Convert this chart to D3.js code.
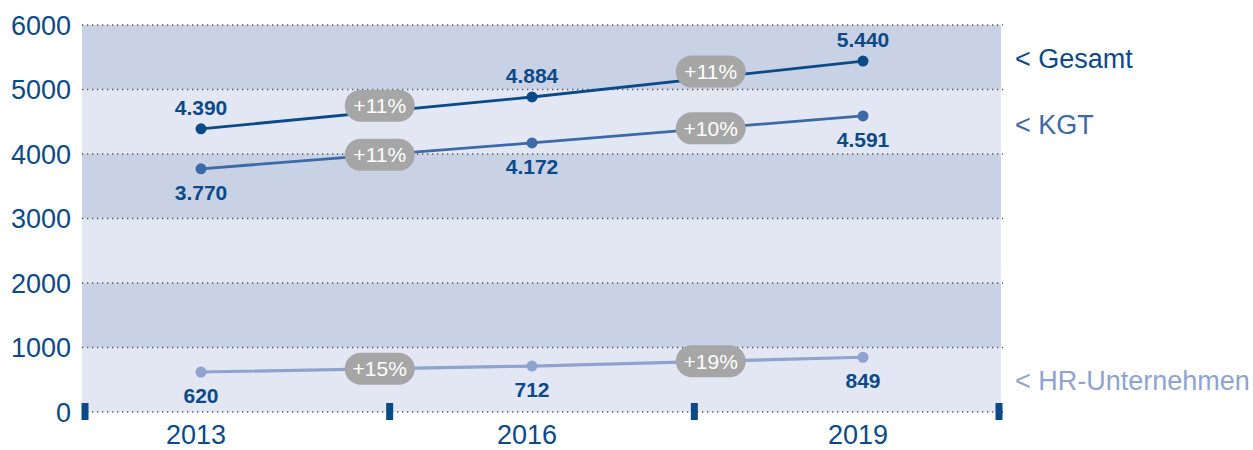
<!DOCTYPE html>
<html>
<head>
<meta charset="utf-8">
<script src="https://cdn.jsdelivr.net/npm/d3@7"></script>
<style>
  body { margin: 0; background: #fff; }
  svg { font-family: "Liberation Sans", Arial, sans-serif; display: block; }
</style>
</head>
<body>
<svg id="chart"></svg>
<script>
    'use strict';

    // data
    var years = ['2013', '2016', '2019'];
    var gesamt = [4390, 4884, 5440];
    var kgt = [3770, 4172, 4591];
    var hr = [620, 712, 849];
    var gesamtGrowth = ['+11%', '+11%'];
    var kgtGrowth = ['+11%', '+10%'];
    var hrGrowth = ['+15%', '+19%'];
    var yTicks = [0, 1000, 2000, 3000, 4000, 5000, 6000];
    var seriesNames = ['< Gesamt', '< KGT', '< HR-Unternehmen'];

(function() {
    var width = 1253;
    var height = 450;
    var plotLeft = 82, plotRight = 1001, plotTop = 25, plotBottom = 412;
    var darkBlue = '#0b4a89';

    var svg = d3.select('#chart')
        .attr('width', width)
        .attr('height', height);

    var y = d3.scaleLinear().domain([0, 6000]).range([plotBottom, plotTop]);
    var x = d3.scalePoint().domain(years).range([201, 863]);
    var band = d3.scaleBand().domain(years).range([85, 999]);

    // alternating background bands
    svg.append('g').selectAll('rect')
        .data(d3.pairs(yTicks))
        .enter().append('rect')
        .attr('x', plotLeft)
        .attr('width', plotRight - plotLeft)
        .attr('y', function(d) { return y(d[1]); })
        .attr('height', function(d) { return y(d[0]) - y(d[1]); })
        .attr('fill', function(d, i) { return i % 2 === 0 ? '#e3e7f3' : '#c9d1e5'; });

    // dotted grid lines
    svg.append('g').selectAll('line')
        .data(yTicks)
        .enter().append('line')
        .attr('x1', plotLeft)
        .attr('x2', plotRight + 2)
        .attr('y1', function(d) { return y(d); })
        .attr('y2', function(d) { return y(d); })
        .attr('stroke', '#555')
        .attr('stroke-width', 1.3)
        .attr('stroke-dasharray', '1.3,3.7');

    // y axis labels
    svg.append('g').selectAll('text')
        .data(yTicks)
        .enter().append('text')
        .attr('x', 71)
        .attr('y', function(d) { return y(d); })
        .attr('dy', '0.36em')
        .attr('text-anchor', 'end')
        .attr('fill', darkBlue)
        .style('font-size', '27px')
        .text(function(d) { return d; });

    // category tick marks
    var edges = years.map(function(d) { return band(d); }).concat([band.range()[1]]);
    svg.append('g').selectAll('rect')
        .data(edges)
        .enter().append('rect')
        .attr('x', function(d) { return d - 3.5; })
        .attr('y', plotBottom - 9)
        .attr('width', 7)
        .attr('height', 17)
        .attr('fill', darkBlue);

    // x labels
    svg.append('g').selectAll('text')
        .data(years)
        .enter().append('text')
        .attr('x', function(d) { return x(d) - 5; })
        .attr('y', 444)
        .attr('text-anchor', 'middle')
        .attr('fill', darkBlue)
        .style('font-size', '27px')
        .text(function(d) { return d; });

    var series = [
        { values: gesamt, growth: gesamtGrowth, color: '#0b4a89', above: true, width: 2.8, pillDy: -6 },
        { values: kgt, growth: kgtGrowth, color: '#3c69a7', above: false, width: 2.8, pillDy: 0 },
        { values: hr, growth: hrGrowth, color: '#8ea3cf', above: false, width: 3.2, pillDy: 0 }
    ];

    var line = d3.line()
        .x(function(d, i) { return x(years[i]); })
        .y(function(d) { return y(d); });

    var fmt = d3.formatLocale({ decimal: ',', thousands: '.', grouping: [3], currency: ['', '€'] }).format(',d');

    series.forEach(function(s) {
        var g = svg.append('g');

        g.append('path')
            .datum(s.values)
            .attr('d', line)
            .attr('fill', 'none')
            .attr('stroke', s.color)
            .attr('stroke-width', s.width);

        g.selectAll('circle')
            .data(s.values)
            .enter().append('circle')
            .attr('cx', function(d, i) { return x(years[i]); })
            .attr('cy', function(d) { return y(d); })
            .attr('r', 5.5)
            .attr('fill', s.color);

        g.selectAll('text.val')
            .data(s.values)
            .enter().append('text')
            .attr('class', 'val')
            .attr('x', function(d, i) { return x(years[i]); })
            .attr('y', function(d) { return y(d) + (s.above ? -14 : 31); })
            .attr('text-anchor', 'middle')
            .attr('fill', darkBlue)
            .style('font-size', '21px')
            .style('font-weight', 'bold')
            .text(function(d) { return fmt(d); });

        // growth pills sit on the segment between two points
        var pills = g.selectAll('g.pill')
            .data(s.growth)
            .enter().append('g')
            .attr('class', 'pill')
            .attr('transform', function(d, i) {
                var t = 0.54;
                var px = x(years[i]) + t * (x(years[i + 1]) - x(years[i]));
                var py = y(s.values[i]) + t * (y(s.values[i + 1]) - y(s.values[i])) + s.pillDy;
                return 'translate(' + px + ',' + py + ')';
            });

        pills.append('rect')
            .attr('x', -35)
            .attr('y', -16)
            .attr('width', 70)
            .attr('height', 32)
            .attr('rx', 16)
            .attr('fill', '#a6a6a6');

        pills.append('text')
            .attr('text-anchor', 'middle')
            .attr('dy', '0.36em')
            .attr('fill', '#fff')
            .style('font-size', '21px')
            .text(function(d) { return d; });
    });

    // series names on the right
    var nameY = [58, 124, 380];
    svg.append('g').selectAll('text')
        .data(seriesNames)
        .enter().append('text')
        .attr('x', 1015)
        .attr('y', function(d, i) { return nameY[i]; })
        .attr('dy', '0.36em')
        .attr('fill', function(d, i) { return series[i].color; })
        .style('font-size', '27px')
        .text(function(d) { return d; });
})();
</script>
</body>
</html>
